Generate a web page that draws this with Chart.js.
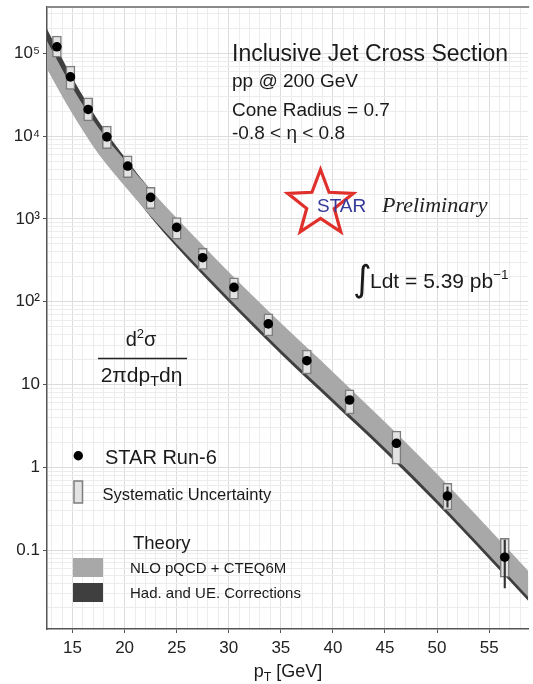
<!DOCTYPE html>
<html>
<head>
<meta charset="utf-8">
<script src="https://cdn.jsdelivr.net/npm/chart.js@4.4.1/dist/chart.umd.min.js"></script>
<style>
html,body{margin:0;padding:0;background:#fff;}
#wrap{position:relative;width:533px;height:684px;}
</style>
</head>
<body>
<div id="wrap"><canvas id="c"></canvas></div>
<script>
// ---- data ----
const ptBins   = [13.5, 14.8, 16.5, 18.3, 20.3, 22.5, 25.0, 27.5, 30.5, 33.8, 37.5, 41.6, 46.1, 51.0, 56.5];
const crossSec = [1.2e5, 5.2e4, 2.1e4, 9.8e3, 4.35e3, 1.82e3, 790, 340, 149, 54, 19.4, 6.5, 1.95, 0.45, 0.082];
const sysLow   = [9.0e4, 3.67e4, 1.53e4, 7.05e3, 3.15e3, 1.33e3, 568, 246, 107, 38.5, 13.4, 4.4, 1.09, 0.305, 0.047];
const sysHigh  = [1.62e5, 7.0e4, 2.91e4, 1.32e4, 5.8e3, 2.41e3, 1040, 442, 195, 71.6, 26, 8.6, 2.74, 0.64, 0.139];
const statLow  = [1.19e5, 5.15e4, 2.08e4, 9.7e3, 4.3e3, 1.8e3, 780, 335, 146, 52.5, 18.7, 6.1, 1.75, 0.33, 0.035];
const statHigh = [1.21e5, 5.25e4, 2.12e4, 9.9e3, 4.4e3, 1.84e3, 800, 345, 152, 55.5, 20.1, 6.9, 2.15, 0.58, 0.132];

const bandPt   = [12.5, 15, 17.5, 20, 22.5, 25, 30, 35, 40, 45, 50, 55, 60];
const nloLow   = [6.64e4, 1.849e4, 6.08e3, 2.50e3, 1.084e3, 498, 111, 26.1, 6.68, 1.71, 0.403, 0.0873, 0.0184];
const nloHigh  = [1.448e5, 3.81e4, 1.253e4, 5.14e3, 2.23e3, 1025, 228, 55.3, 14.2, 3.52, 0.830, 0.180, 0.0379];
const corrLow  = [8.78e4, 2.31e4, 7.18e3, 2.71e3, 1.054e3, 458, 99.2, 23.4, 5.98, 1.53, 0.360, 0.0781, 0.0165];
const corrHigh = [2.02e5, 5.03e4, 1.522e4, 5.59e3, 2.23e3, 970, 204, 48.1, 12.7, 3.15, 0.743, 0.161, 0.0339];

const xTickValues = [15, 20, 25, 30, 35, 40, 45, 50, 55];
const yTickValues = [0.1, 1, 10, 100, 1000, 10000, 100000];
const yTickLabels = ['0.1', '1', '10', '10\u00B2', '10\u00B3', '10\u2074', '10\u2075'];

const FONT = "'Liberation Sans', Arial, Helvetica, sans-serif";

function pts(xs, ys) { return xs.map((x, i) => ({x: x, y: ys[i]})); }
function isDecade(v) { const l = Math.log10(v); return Math.abs(l - Math.round(l)) < 1e-6; }
function noPad(s) { s.paddingTop = 0; s.paddingBottom = 0; s.paddingLeft = 0; s.paddingRight = 0; }

function rich(ctx, x, y, parts, align) {
  let w = 0;
  const ws = parts.map(p => { ctx.font = (p.style || '') + ' ' + p.size + 'px ' + (p.family || FONT); const m = ctx.measureText(p.t).width; w += m; return m; });
  let cx = align === 'center' ? x - w / 2 : x;
  parts.forEach((p, i) => {
    ctx.font = (p.style || '') + ' ' + p.size + 'px ' + (p.family || FONT);
    ctx.fillStyle = p.color || '#1a1a1a';
    ctx.fillText(p.t, cx, y + (p.dy || 0));
    cx += ws[i];
  });
}

const deco = {
  id: 'deco',
  afterDraw(chart) {
    const ctx = chart.ctx, a = chart.chartArea;
    ctx.save();
    // top frame line
    ctx.strokeStyle = '#8a8a8a'; ctx.lineWidth = 2;
    ctx.beginPath(); ctx.moveTo(a.left, a.top); ctx.lineTo(a.right + 1, a.top); ctx.stroke();

    ctx.textBaseline = 'alphabetic'; ctx.textAlign = 'left';
    // header texts
    rich(ctx, 232, 61, [{t: 'Inclusive Jet Cross Section', size: 23}]);
    rich(ctx, 232, 87, [{t: 'pp @ 200 GeV', size: 19}]);
    rich(ctx, 232, 116, [{t: 'Cone Radius = 0.7', size: 19}]);
    rich(ctx, 232, 139, [{t: '-0.8 < \u03B7 < 0.8', size: 19}]);

    // STAR star logo
    const cx = 320.5, cy = 204, R = 34.5, r = 14.5;
    ctx.beginPath();
    for (let k = 0; k < 10; k++) {
      const ang = -Math.PI / 2 + k * Math.PI / 5;
      const rr = k % 2 === 0 ? R : r;
      const px = cx + rr * Math.cos(ang), py = cy + rr * Math.sin(ang);
      if (k === 0) ctx.moveTo(px, py); else ctx.lineTo(px, py);
    }
    ctx.closePath();
    ctx.strokeStyle = '#e0302c'; ctx.lineWidth = 3.2; ctx.lineJoin = 'miter'; ctx.stroke();
    rich(ctx, 317, 212, [{t: 'STAR', size: 19, color: '#34399a'}]);
    rich(ctx, 382, 212, [{t: 'Preliminary', size: 22, style: 'italic', family: "'Liberation Serif', 'Times New Roman', serif", color: '#222'}]);

    // luminosity
    rich(ctx, 353, 291, [{t: '\u222B', size: 36, family: "'DejaVu Sans', sans-serif"}]);
    rich(ctx, 370, 288, [{t: 'Ldt = 5.39 pb', size: 21}, {t: '\u22121', size: 13.5, dy: -9}]);

    // y label formula
    rich(ctx, 141, 346, [{t: 'd', size: 20}, {t: '2', size: 13, dy: -8}, {t: '\u03C3', size: 20}], 'center');
    ctx.strokeStyle = '#222'; ctx.lineWidth = 1.6;
    ctx.beginPath(); ctx.moveTo(98, 358.5); ctx.lineTo(187, 358.5); ctx.stroke();
    rich(ctx, 141.5, 382, [{t: '2\u03C0dp', size: 21}, {t: 'T', size: 14.5, dy: 4}, {t: 'd\u03B7', size: 21}], 'center');

    // legend
    ctx.fillStyle = '#000';
    ctx.beginPath(); ctx.arc(78.3, 455.7, 4.7, 0, Math.PI * 2); ctx.fill();
    rich(ctx, 105, 463.5, [{t: 'STAR Run-6', size: 20}]);
    ctx.fillStyle = '#e3e3e3'; ctx.strokeStyle = '#7d7d7d'; ctx.lineWidth = 1.5;
    ctx.fillRect(74, 481, 8.5, 22); ctx.strokeRect(74, 481, 8.5, 22);
    rich(ctx, 102.5, 500, [{t: 'Systematic Uncertainty', size: 16.5}]);
    rich(ctx, 133, 548.5, [{t: 'Theory', size: 18.5}]);
    ctx.fillStyle = '#a8a8a8'; ctx.fillRect(73, 558, 30, 19);
    ctx.fillStyle = '#3f3f3f'; ctx.fillRect(73, 583, 30, 19);
    rich(ctx, 130, 573, [{t: 'NLO pQCD + CTEQ6M', size: 15}]);
    rich(ctx, 130, 597.5, [{t: 'Had. and UE. Corrections', size: 15}]);

    // x axis title
    rich(ctx, 288, 677, [{t: 'p', size: 18}, {t: 'T', size: 12.5, dy: 4}, {t: ' [GeV]', size: 18}], 'center');
    ctx.restore();
  }
};

const bandLine = {type: 'line', borderWidth: 0, pointRadius: 0, clip: 0, tension: 0, cubicInterpolationMode: 'monotone'};

new Chart(document.getElementById('c'), {
  type: 'bar',
  data: {
    datasets: [
      Object.assign({}, bandLine, {data: pts(bandPt, corrLow), fill: false, order: 10}),
      Object.assign({}, bandLine, {data: pts(bandPt, corrHigh), fill: {target: 0}, backgroundColor: '#3f3f3f', order: 9}),
      Object.assign({}, bandLine, {data: pts(bandPt, nloLow), fill: false, order: 8}),
      Object.assign({}, bandLine, {data: pts(bandPt, nloHigh), fill: {target: 2}, backgroundColor: '#a8a8a8', order: 7}),
      {type: 'bar', data: ptBins.map((x, i) => ({x: x, y: [sysLow[i], sysHigh[i]]})),
        backgroundColor: '#e3e3e3', borderColor: '#7d7d7d', borderWidth: 1.5, borderSkipped: false,
        barThickness: 9, grouped: false, order: 3},
      {type: 'bar', data: ptBins.map((x, i) => ({x: x, y: [statLow[i], statHigh[i]]})),
        backgroundColor: '#333', borderWidth: 0, barThickness: 1.5, grouped: false, order: 2},
      {type: 'line', data: pts(ptBins, crossSec), showLine: false, pointRadius: 4.8,
        pointBackgroundColor: '#000', pointBorderWidth: 0, order: 1}
    ]
  },
  options: {
    responsive: true, maintainAspectRatio: false, animation: false,
    layout: {padding: {top: 7, right: 1, left: 0, bottom: 0}},
    plugins: {legend: {display: false}, tooltip: {enabled: false}},
    scales: {
      x: {
        type: 'linear', min: 12.55, max: 58.75, offset: false,
        afterBuildTicks: s => { const t = []; for (let v = 13; v <= 58; v++) t.push({value: v}); s.ticks = t; },
        afterFit: s => { s.height = 55; noPad(s); },
        ticks: {autoSkip: false, maxRotation: 0, padding: 5, color: '#222', font: {family: FONT, size: 17},
          callback: v => xTickValues.indexOf(v) >= 0 ? String(v) : ''},
        grid: {offset: false, lineWidth: 1, tickLength: 4,
          color: c => (c.tick && c.tick.value % 5 === 0) ? '#dcdcdc' : '#ececec',
          tickColor: c => (c.tick && c.tick.value % 5 === 0) ? '#555' : 'rgba(0,0,0,0)'},
        border: {display: true, color: '#555', width: 1.5}
      },
      y: {
        type: 'logarithmic', min: 0.01114, max: 3.63e5,
        afterBuildTicks: s => {
          const t = [];
          for (let e = -2; e <= 5; e++) for (let m = 1; m <= 9; m++) {
            const v = parseFloat((m * Math.pow(10, e)).toPrecision(6));
            if (v >= s.min && v <= s.max) t.push({value: v});
          }
          s.ticks = t;
        },
        afterFit: s => { s.width = 47; noPad(s); },
        ticks: {autoSkip: false, padding: 3, color: '#222', font: {family: FONT, size: 17},
          callback: v => { for (let i = 0; i < yTickValues.length; i++) if (Math.abs(v / yTickValues[i] - 1) < 1e-6) return yTickLabels[i]; return ''; }},
        grid: {lineWidth: 1, tickLength: 4,
          color: c => (c.tick && isDecade(c.tick.value)) ? '#dcdcdc' : '#ececec',
          tickColor: c => (c.tick && isDecade(c.tick.value)) ? '#555' : 'rgba(0,0,0,0)'},
        border: {display: true, color: '#555', width: 1.5}
      }
    }
  },
  plugins: [deco]
});
</script>
</body>
</html>
